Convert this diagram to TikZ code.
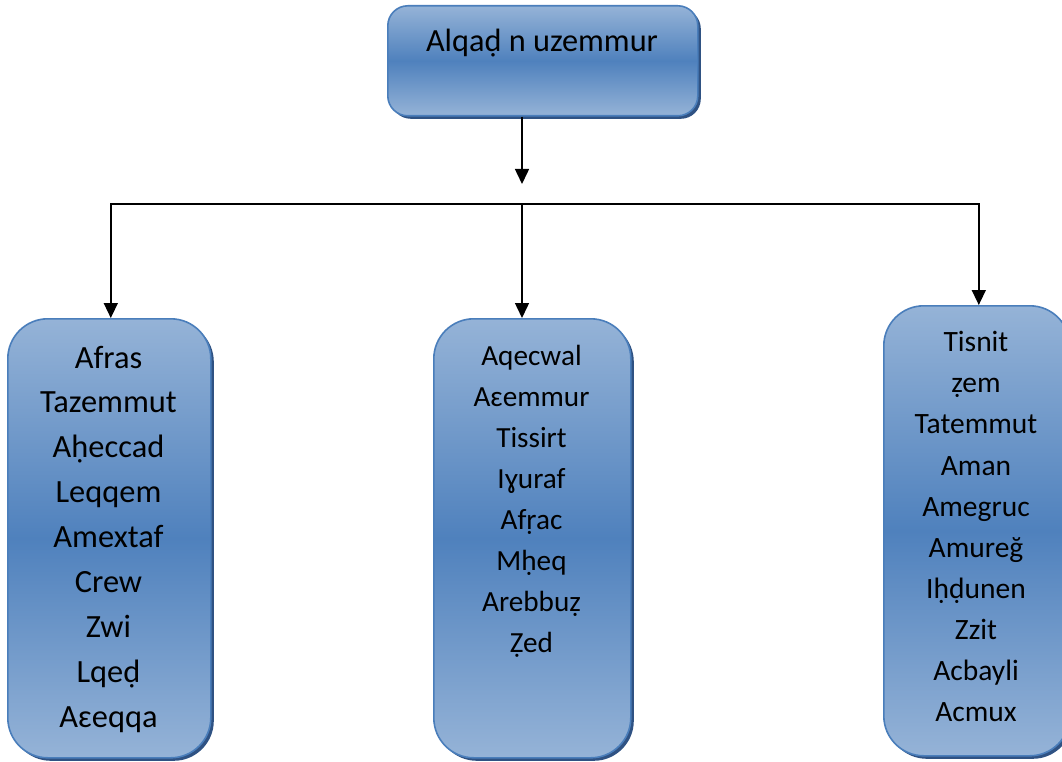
\documentclass[tikz,border=0pt]{standalone}
\usepackage{fontspec}
\setmainfont{Carlito}
\usetikzlibrary{shadows,arrows.meta}
\definecolor{boxlight}{HTML}{95B3D7}
\definecolor{boxdark}{HTML}{4F81BD}
\definecolor{boxborder}{HTML}{4A7EBB}
\definecolor{boxshadow}{HTML}{2F5283}
\begin{document}
\begin{tikzpicture}[x=1pt,y=-1pt,
  panel/.style={draw=boxborder, line width=1.6pt, top color=boxlight, bottom color=boxlight, middle color=boxdark,
    rounded corners=#1, inner sep=0pt, anchor=north west,
    drop shadow={shadow xshift=3pt, shadow yshift=-3pt, fill=boxshadow, opacity=1}},
  item/.style={anchor=base, inner sep=0pt, text=black},
  conn/.style={draw=black, line width=1.5pt, -{Triangle[length=15pt,width=14pt]}}]
\clip (0,0) rectangle (1062,762);
\fill[white] (0,0) rectangle (1062,762);
% boxes
\node[panel=20pt, minimum width=310pt, minimum height=110pt] (top) at (387,5) {};
\node[panel=40pt, minimum width=203pt, minimum height=439pt] (left) at (7,318) {};
\node[panel=40pt, minimum width=197pt, minimum height=439pt] (mid) at (433,318) {};
\node[panel=40pt, minimum width=186pt, minimum height=450pt] (right) at (883,305) {};
% texts
\node[item, font=\fontsize{32.3}{38}\selectfont] (ttl) at (542,52) {Alqaḍ n uzemmur};
\foreach \t [count=\i] in {Afras,Tazemmut,Aḥeccad,Leqqem,Amextaf,Crew,Zwi,Lqeḍ,Aɛeqqa}
  \node[item, font=\fontsize{32.4}{38}\selectfont] (l\i) at (108.5,{368+(\i-1)*44.9}) {\t};
\foreach \t [count=\i] in {Aqecwal,Aɛemmur,Tissirt,Iɣuraf,Afṛac,Mḥeq,Arebbuẓ,Ẓed}
  \node[item, font=\fontsize{29.2}{35}\selectfont] (m\i) at (531.5,{365+(\i-1)*41.1}) {\t};
\foreach \t [count=\i] in {Tisnit,ẓem,Tatemmut,Aman,Amegruc,Amureğ,Iḥḍunen,Zzit,Acbayli,Acmux}
  \node[item, font=\fontsize{29.5}{35}\selectfont] (r\i) at (976,{351.7+(\i-1)*41.1}) {\t};
% connectors
\coordinate (tipA) at (522,184);
\coordinate (J) at (522,204);
\draw[conn] (top.south -| tipA) -- (tipA);
\draw[conn] (J) -| ([xshift=1.5pt]left.north);
\draw[conn] (J) -| ([xshift=2pt]right.north);
\draw[conn] (J) -- (J |- mid.north);
\end{tikzpicture}
\end{document}
